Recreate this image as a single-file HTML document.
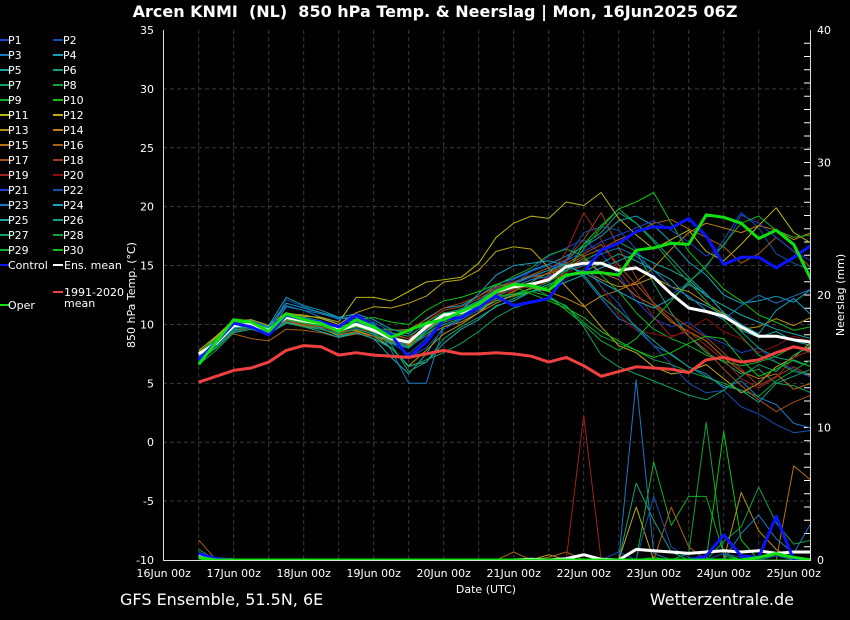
<!DOCTYPE html>
<html><head><meta charset="utf-8">
<style>
html,body{margin:0;padding:0;background:#000;}
svg{display:block;font-family:"DejaVu Sans","Liberation Sans",sans-serif;}
</style></head>
<body>
<svg id="chart" width="850" height="620" viewBox="0 0 850 620" xmlns="http://www.w3.org/2000/svg">
<rect width="850" height="620" fill="#000"/>
<text x="435" y="17" fill="#fff" font-size="16" font-weight="bold" text-anchor="middle">Arcen KNMI&#160;&#160;(NL)&#160;&#160;850 hPa Temp. &amp; Neerslag | Mon, 16Jun2025 06Z</text>
<g id="grid"></g>
<g id="axes"></g>
<defs><clipPath id="clip"><rect x="163" y="30" width="647" height="530"/></clipPath></defs>
<g id="marks" clip-path="url(#clip)"></g>
<g id="legend"></g>
<text x="486" y="593" fill="#fff" font-size="11" text-anchor="middle">Date (UTC)</text>
<text transform="translate(135,295) rotate(-90)" fill="#fff" font-size="11" text-anchor="middle">850 hPa Temp. (°C)</text>
<text transform="translate(844,295) rotate(-90)" fill="#fff" font-size="11" text-anchor="middle">Neerslag (mm)</text>
<text x="120" y="605" fill="#fff" font-size="16">GFS Ensemble, 51.5N, 6E</text>
<text x="794" y="605" fill="#fff" font-size="16" text-anchor="end">Wetterzentrale.de</text>
</svg>
<script>
const xTickLabels=["16Jun 00z","17Jun 00z","18Jun 00z","19Jun 00z","20Jun 00z","21Jun 00z","22Jun 00z","23Jun 00z","24Jun 00z","25Jun 00z"];
const yTicks=[35,30,25,20,15,10,5,0,-5,-10];
const y2Ticks=[40,30,20,10,0];
const memberColors=["#2040d0","#1050b0","#1a78c0","#12a0c0","#18a8a8","#10a080","#10a060","#10a040","#10b028","#10c010","#b8b810","#c0a810","#b89010","#c08010","#b87010","#a86010","#a85018","#a04020","#a02020","#881010"];
const climate=[5.1,5.6,6.1,6.3,6.8,7.8,8.2,8.1,7.4,7.6,7.4,7.3,7.2,7.5,7.8,7.5,7.5,7.6,7.5,7.3,6.8,7.2,6.5,5.6,6.0,6.4,6.3,6.2,5.9,7.0,7.2,6.8,7.0,7.6,8.1,7.8];
const ensMean=[7.5,8.4,9.9,10.0,9.5,10.6,10.3,10.1,9.5,10.0,9.5,8.8,8.5,9.8,10.8,11.0,11.7,12.8,13.2,13.4,13.8,14.9,15.2,15.2,14.6,14.8,14.0,12.6,11.4,11.1,10.7,9.8,9.0,9.0,8.7,8.5];
const control=[7.0,8.5,10.1,9.8,9.1,10.8,10.4,10.2,9.8,10.8,9.8,9.1,7.2,8.5,10.4,10.6,11.5,12.4,11.6,11.9,12.2,14.2,14.4,16.3,16.9,17.9,18.3,18.2,19.0,17.5,15.1,15.7,15.7,14.8,15.7,16.7];
const oper=[6.6,8.5,10.4,10.2,9.4,10.9,10.4,10.1,9.4,10.4,9.8,8.9,9.5,10.1,10.4,11.1,11.7,12.8,13.4,13.3,12.9,14.2,14.4,14.4,14.2,16.3,16.5,16.9,16.8,19.3,19.1,18.6,17.3,18.0,16.8,13.8];
const members=[
[7.2,8.8,10.2,10.1,9.3,10.9,10.6,10.2,9.6,10.3,9.8,9.0,8.2,9.5,10.6,11.2,12.0,13.1,13.8,14.5,15.8,16.5,17.2,16.0,14.2,12.0,10.5,9.8,10.2,9.0,8.4,7.6,8.0,6.8,6.2,5.5],
[7.4,8.2,9.6,10.3,9.8,10.2,10.0,9.8,9.2,9.7,9.1,8.4,7.5,8.8,10.2,10.8,11.3,12.2,12.6,13.0,14.2,15.5,17.8,18.3,18.0,16.4,14.2,12.5,13.6,14.8,17.2,19.5,18.2,16.0,15.2,14.6],
[7.0,8.0,9.4,9.6,9.1,11.5,11.2,10.6,10.0,10.4,10.1,7.8,5.0,5.0,9.8,10.2,11.0,12.6,13.5,14.2,14.8,15.3,14.0,12.2,10.5,9.8,8.2,7.5,6.4,5.8,4.6,5.2,3.8,3.2,1.6,1.2],
[7.6,8.6,10.0,10.4,9.9,12.3,11.6,11.2,10.6,10.9,10.4,9.6,9.2,10.5,11.4,11.6,12.4,13.4,13.9,14.6,15.1,15.8,16.6,17.5,18.8,19.2,18.4,17.0,15.3,14.2,12.5,11.8,12.0,12.4,11.9,13.0],
[7.3,8.4,9.8,9.9,9.4,10.4,10.0,9.7,9.0,9.3,8.8,7.2,5.8,7.5,9.8,10.4,11.2,12.0,12.5,12.8,13.4,14.0,14.5,15.2,16.0,15.4,14.6,13.8,12.2,11.6,10.8,9.5,8.9,9.4,8.6,8.2],
[7.1,8.3,9.7,10.0,9.6,10.7,10.2,9.9,9.3,9.6,9.2,8.5,8.0,9.2,10.0,10.5,11.4,12.4,13.0,13.6,14.4,15.4,16.8,17.8,19.5,18.6,17.2,15.6,14.0,12.6,11.0,9.4,8.0,7.2,6.9,6.4],
[6.8,8.1,9.5,9.8,9.2,10.3,10.1,9.9,9.4,9.8,9.3,8.3,6.0,6.8,8.8,9.8,10.6,11.5,12.2,12.8,13.2,14.6,15.4,16.2,17.0,16.2,13.5,11.0,9.0,7.6,6.8,5.8,6.2,5.0,4.8,4.2],
[7.5,8.5,10.1,10.2,9.7,10.8,10.4,10.0,9.5,9.9,9.6,9.0,8.6,9.9,10.9,11.3,11.9,12.6,13.0,13.2,12.4,11.5,10.2,9.0,8.4,7.8,7.0,6.6,6.0,5.5,5.0,4.4,3.9,5.2,6.1,7.0],
[7.4,8.6,10.0,10.1,9.6,10.6,10.3,10.2,9.7,10.1,9.6,8.9,8.4,9.6,10.5,11.1,11.9,13.3,14.1,14.8,15.9,16.4,15.8,14.2,12.8,11.0,9.6,8.8,8.2,7.4,6.9,6.5,6.8,7.3,8.1,7.6],
[7.2,8.4,9.9,10.0,9.5,10.6,10.2,10.0,9.5,9.9,9.4,8.7,8.3,9.4,10.4,10.8,11.4,12.0,12.4,12.8,13.2,14.4,16.8,18.4,19.8,20.4,21.2,18.6,16.2,14.6,13.0,12.0,10.8,10.2,9.5,9.8],
[7.6,8.9,10.3,10.4,9.9,11.0,10.7,10.6,10.2,12.3,12.3,12.0,12.8,13.6,13.8,14.0,15.2,17.4,18.6,19.2,19.0,20.4,20.1,21.2,19.0,17.6,16.4,17.2,18.0,16.2,15.4,16.8,18.4,19.9,17.8,16.9],
[7.8,9.0,10.4,10.2,9.8,10.9,10.8,10.5,10.0,11.0,11.5,11.4,11.8,12.4,13.6,13.8,14.6,16.2,16.6,16.4,14.8,13.2,11.6,9.8,8.2,7.6,6.4,5.8,6.0,6.6,5.4,4.2,5.0,6.4,7.2,8.5],
[7.3,8.6,10.2,10.3,9.7,10.5,10.2,10.0,9.4,9.5,9.0,8.0,6.5,7.8,9.2,10.0,11.0,12.2,12.8,13.5,13.9,14.2,14.6,13.8,13.2,13.4,14.0,13.2,12.8,11.8,10.9,9.6,9.8,10.5,9.9,10.6],
[7.5,8.3,9.5,9.7,9.3,10.2,9.9,9.6,9.1,9.4,9.0,8.6,8.2,9.0,9.8,10.2,11.0,11.8,12.5,13.1,12.8,12.2,11.5,12.4,12.9,13.6,14.8,16.4,17.8,18.6,18.2,17.8,18.4,18.0,17.2,17.8],
[7.7,8.7,10.0,9.9,9.2,10.4,10.3,10.2,9.8,10.2,9.9,9.2,8.8,9.6,10.6,11.2,11.8,12.9,13.5,14.0,14.3,14.8,15.6,14.4,13.8,12.4,11.6,10.2,9.4,8.6,7.2,6.0,5.4,5.8,4.5,5.0],
[7.4,8.5,9.2,8.8,8.6,9.6,9.5,9.3,8.9,9.2,9.0,8.5,8.3,9.2,10.2,10.6,11.5,12.6,13.2,13.8,14.4,15.0,15.8,16.4,17.2,17.8,18.6,18.9,18.1,17.4,16.6,15.2,16.0,17.4,16.2,14.8],
[7.6,8.8,10.1,10.2,9.6,10.5,10.1,9.8,9.4,9.8,9.7,9.5,9.6,10.4,11.4,11.8,12.4,13.2,13.6,14.1,14.6,15.2,16.0,16.8,15.0,13.4,11.8,10.4,9.0,7.8,6.2,4.8,3.6,2.6,3.4,4.0],
[7.3,8.4,9.8,9.9,9.4,10.3,10.0,9.8,9.3,9.6,9.4,9.1,8.8,10.2,11.2,11.5,12.2,13.0,13.6,14.2,14.8,15.5,17.2,19.5,16.5,14.0,11.8,10.8,9.8,8.9,7.6,6.2,4.8,5.6,6.4,5.6],
[7.5,8.6,9.9,10.1,9.6,10.7,10.5,10.2,9.7,10.0,9.6,8.9,8.6,9.7,10.6,11.1,11.6,12.5,13.0,13.4,14.0,16.2,19.5,17.2,14.6,12.8,10.6,9.0,9.4,8.2,7.0,5.4,4.6,5.5,7.2,7.8],
[7.4,8.5,9.9,10.0,9.5,10.6,10.4,10.1,9.6,10.0,9.6,8.8,8.6,9.7,10.7,11.0,11.5,12.1,12.9,13.3,13.6,14.4,15.0,13.2,10.8,9.5,9.2,8.9,9.6,10.5,9.4,8.8,7.6,8.2,9.0,8.6],
[7.2,8.6,10.1,10.3,9.8,10.9,10.6,10.3,9.7,10.2,9.7,8.9,8.1,9.0,10.2,11.0,11.8,12.8,13.4,14.0,14.6,15.4,16.2,17.0,17.6,18.2,18.8,18.0,17.0,15.8,16.6,19.3,18.6,17.4,16.2,15.4],
[7.0,8.2,9.6,9.7,9.2,12.1,11.5,11.0,10.4,10.8,10.2,9.4,7.2,8.0,9.6,10.4,11.2,12.6,13.4,14.5,15.0,14.8,15.4,13.2,11.8,9.6,8.2,6.6,5.0,4.2,4.4,3.0,2.4,1.5,0.8,1.0],
[7.3,8.5,9.9,10.2,9.6,11.6,11.2,10.9,10.5,10.6,10.0,9.0,8.4,9.8,10.8,11.3,12.0,12.9,13.2,13.8,14.1,14.6,15.0,16.0,16.5,15.8,14.6,13.2,12.4,11.2,10.4,11.6,12.5,11.8,12.4,13.0],
[7.5,8.6,10.0,10.1,9.8,11.8,11.4,11.0,10.6,10.4,9.6,8.4,8.0,9.4,10.6,11.2,12.6,14.2,15.0,15.2,15.4,15.0,14.4,13.6,12.8,12.0,11.4,12.2,13.4,12.6,11.0,10.0,9.2,11.2,12.2,10.8],
[7.1,8.3,9.7,9.8,9.3,10.2,9.8,9.4,8.9,9.3,8.8,8.0,6.5,6.8,8.4,9.6,10.4,11.6,12.0,12.8,13.0,13.6,14.2,14.8,15.4,16.0,15.2,14.6,13.8,12.4,11.6,10.8,10.2,9.6,9.2,8.8],
[7.6,8.7,10.0,10.2,9.7,10.8,10.6,10.3,9.8,10.1,9.8,9.3,9.0,10.0,10.9,11.3,12.0,12.9,13.5,14.1,14.6,15.1,14.2,12.4,11.2,9.8,8.6,7.4,6.4,5.6,4.8,4.4,3.4,5.0,5.6,6.2],
[6.6,7.8,9.3,9.6,9.2,10.1,9.8,9.6,9.2,9.6,9.2,8.0,6.4,7.0,7.6,8.4,9.4,10.6,11.4,11.9,12.2,11.6,9.8,7.4,6.4,5.8,5.2,4.6,4.0,3.6,4.4,5.6,6.6,6.0,7.4,8.2],
[7.4,8.5,9.8,10.0,9.5,10.5,10.2,10.0,9.6,10.0,9.6,9.6,9.4,10.2,11.0,11.2,11.6,12.2,12.6,13.0,13.6,14.6,16.4,18.2,19.8,18.6,17.0,15.2,13.6,12.0,10.4,9.0,7.4,6.8,6.0,5.8],
[6.9,8.0,9.5,9.8,9.4,10.4,10.1,9.9,9.4,9.8,9.4,8.6,8.1,9.2,10.2,10.8,11.6,12.4,12.6,12.8,12.4,11.2,10.0,8.6,7.8,8.8,10.4,12.0,13.6,15.0,16.8,18.6,19.2,18.0,17.4,17.6],
[7.6,8.8,10.2,10.1,9.6,10.6,10.2,10.0,9.6,10.4,10.6,10.2,10.0,11.2,12.0,12.3,12.8,13.4,13.2,12.6,12.0,11.4,10.6,9.4,8.6,7.8,7.2,7.6,8.4,9.0,8.8,7.0,5.6,6.2,7.0,6.4]
];
// precipitation (mm) for selected members: [member index (0-based), values]
const memberPrecip=[
[18,[0,0,0,0,0,0,0,0,0,0,0,0,0,0,0,0,0,0,0,0,0,0,10.9,0,0,0,0,0,0,0,0,0,0,0,0,0]],
[2,[0,0,0,0,0,0,0,0,0,0,0,0,0,0,0,0,0,0,0,0,0,0,0,0,0,13.6,0.5,0,0,0,0,0,0,0,0,0]],
[21,[0,0,0,0,0,0,0,0,0,0,0,0,0,0,0,0,0,0,0,0,0,0,0,0,0.6,0,4.8,1.0,0.2,0,0.5,0.2,0,0.3,0,0]],
[7,[0,0,0,0,0,0,0,0,0,0,0,0,0,0,0,0,0,0,0,0,0,0,0,0,0,0,0.2,0,0.5,10.4,0.3,0,0,0,0,0]],
[9,[0.6,0,0,0,0,0,0,0,0,0,0,0,0,0,0,0,0,0,0,0,0,0,0,0,0,0,0,0,0,0,9.7,1.5,0,0.4,0,0]],
[5,[0,0,0,0,0,0,0,0,0,0,0,0,0,0,0,0,0,0,0,0,0,0,0,0,0,5.8,3.0,0.6,0,0,0,0,0,0,0,0]],
[8,[0,0,0,0,0,0,0,0,0,0,0,0,0,0,0,0,0,0,0,0,0,0,0,0,0,0,7.4,2.6,4.8,4.8,0.5,0,0,0,0,0]],
[11,[0,0,0,0,0,0,0,0,0,0,0,0,0,0,0,0,0,0,0,0,0.4,0,0,0,0,4.0,0,0,0,0,0,0,0,0,0,0]],
[15,[1.5,0,0,0,0,0,0,0,0,0,0,0,0,0,0,0,0,0,0.6,0,0.2,0.6,0,0,0,0,0,4.0,1.0,0,0,0,0,0,0,0]],
[12,[0,0,0,0,0,0,0,0,0,0,0,0,0,0,0,0,0,0,0,0,0,0,0,0,0,0,0,0,0,0,0,5.1,2.2,0.8,0,0]],
[27,[0.8,0,0,0,0,0,0,0,0,0,0,0,0,0,0,0,0,0,0,0,0,0,0,0,0,0,0,0,0,0,1.4,2.5,5.5,2.8,1.2,1.5]],
[14,[0,0,0,0,0,0,0,0,0,0,0,0,0,0,0,0,0,0,0,0,0,0,0,0,0,0,0,0,0,0,0,0,0,0,7.1,6.0]],
[22,[0,0,0,0,0,0,0,0,0,0,0,0,0,0,0,0,0,0,0,0,0,0,0,0,0,0,0,0,0,0,0,2.0,3.4,1.6,0.5,2.8]]
];
const controlPrecip=[0.5,0.1,0,0,0,0,0,0,0,0,0,0,0,0,0,0,0,0,0,0,0,0,0,0,0,0,0,0,0,0.3,1.9,0.3,0.2,3.3,0,0];
const meanPrecip=[0.3,0.1,0,0,0,0,0,0,0,0,0,0,0,0,0,0,0,0,0,0.05,0,0.1,0.4,0.05,0,0.8,0.7,0.6,0.5,0.6,0.7,0.6,0.7,0.5,0.6,0.6];
const operPrecip=[0.2,0,0,0,0,0,0,0,0,0,0,0,0,0,0,0,0,0,0,0,0,0,0,0,0,0,0,0,0,0,0,0,0.2,0.5,0.2,0];

const NS="http://www.w3.org/2000/svg";
const X0=163.7, PXDAY=70, T0=0.5, STEP=0.25;
function xAt(i){return X0+(T0+i*STEP)*PXDAY;}
function yT(t){return 560-(t+10)*(530/45);}
function yP(mm){return 560-mm*(530/40);}
function mk(tag,attrs,parent){const e=document.createElementNS(NS,tag);for(const k in attrs)e.setAttribute(k,attrs[k]);parent.appendChild(e);return e;}
const grid=document.getElementById('grid'),axes=document.getElementById('axes'),marks=document.getElementById('marks'),legend=document.getElementById('legend');

for(let h=1;h<18;h++){const x=X0+h*35;
 const l=mk('line',{x1:x,x2:x,y1:30,y2:560,stroke:'#3a3a3a','stroke-dasharray':'4,3','stroke-width':1},grid);
 
 }
yTicks.forEach(v=>{const y=yT(v);
 if(v>-10&&v<35){const l=mk('line',{x1:163,x2:810,y1:y,y2:y,stroke:'#3a3a3a','stroke-dasharray':'4,3','stroke-width':1},grid);
 
 }
 const t=mk('text',{x:154,y:y+4,fill:'#fff','font-size':11,'text-anchor':'end'},axes);t.textContent=v;
 
 });
y2Ticks.forEach(v=>{const t=mk('text',{x:817,y:yP(v)+4,fill:'#fff','font-size':11},axes);t.textContent=v;
 
 });
for(let mm=1;mm<40;mm++){const l=mk('line',{x1:804,x2:810,y1:yP(mm),y2:yP(mm),stroke:'#fff','stroke-width':1},axes);
 
 }
xTickLabels.forEach((s,i)=>{const t=mk('text',{x:X0+i*PXDAY,y:577,fill:'#fff','font-size':11,'text-anchor':'middle'},axes);t.textContent=s;
 
 });
const frame=mk('path',{d:'M163.5,30 V560.5 H810.5 V30',stroke:'#ddd',fill:'none','stroke-width':1},axes);



function pts(arr,fy){return arr.map((v,i)=>xAt(i).toFixed(1)+','+fy(v).toFixed(1)).join(' ');}
function line(arr,fy,color,w,name){const p=mk('polyline',{points:pts(arr,fy),fill:'none',stroke:color,'stroke-width':w,'stroke-linejoin':'round'},marks);
 
 }
members.forEach((m,k)=>line(m,yT,memberColors[k%20],1,'member-p'+(k+1)+'-temp'));
const zeros=members[0].map(()=>0);
members.forEach((m,k)=>{const f=memberPrecip.find(e=>e[0]===k);line(f?f[1]:zeros,yP,memberColors[k%20],1,'member-p'+(k+1)+'-precip');});
line(meanPrecip,yP,'#fff',3,'ens-mean-precip');
line(controlPrecip,yP,'#0a14ff',3,'control-precip');
line(operPrecip,yP,'#10e010',3,'oper-precip');
line(ensMean,yT,'#fff',3,'ens-mean-temp');
line(control,yT,'#0a14ff',3,'control-temp');
line(oper,yT,'#10e010',3,'oper-temp');
line(climate,yT,'#f04040',3,'climate-mean-temp');

for(let k=0;k<30;k++){const col=k%2, row=Math.floor(k/2);
 const x=col?53:0, y=40+row*15;
 const l=mk('line',{x1:x,x2:x+10,y1:y,y2:y,stroke:memberColors[k%20],'stroke-width':2},legend);
 
 
 const t=mk('text',{x:x+8+(col?2:0),y:y+4,fill:'#fff','font-size':11},legend);t.textContent='P'+(k+1);
 
 }
[[0,265,'#0a14ff','Control'],[53,265,'#fff','Ens. mean'],[53,292,'#f04040','1991-2020'],[0,305,'#10e010','Oper']].forEach(e=>{
 const l=mk('line',{x1:e[0],x2:e[0]+10,y1:e[1],y2:e[1],stroke:e[2],'stroke-width':2},legend);
 
 
 const t=mk('text',{x:e[0]+(e[0]?11:8),y:e[1]+4,fill:'#fff','font-size':11},legend);t.textContent=e[3];
 
 });
const tm=mk('text',{x:64,y:307,fill:'#fff','font-size':11},legend);tm.textContent='mean';


</script>
</body></html>
